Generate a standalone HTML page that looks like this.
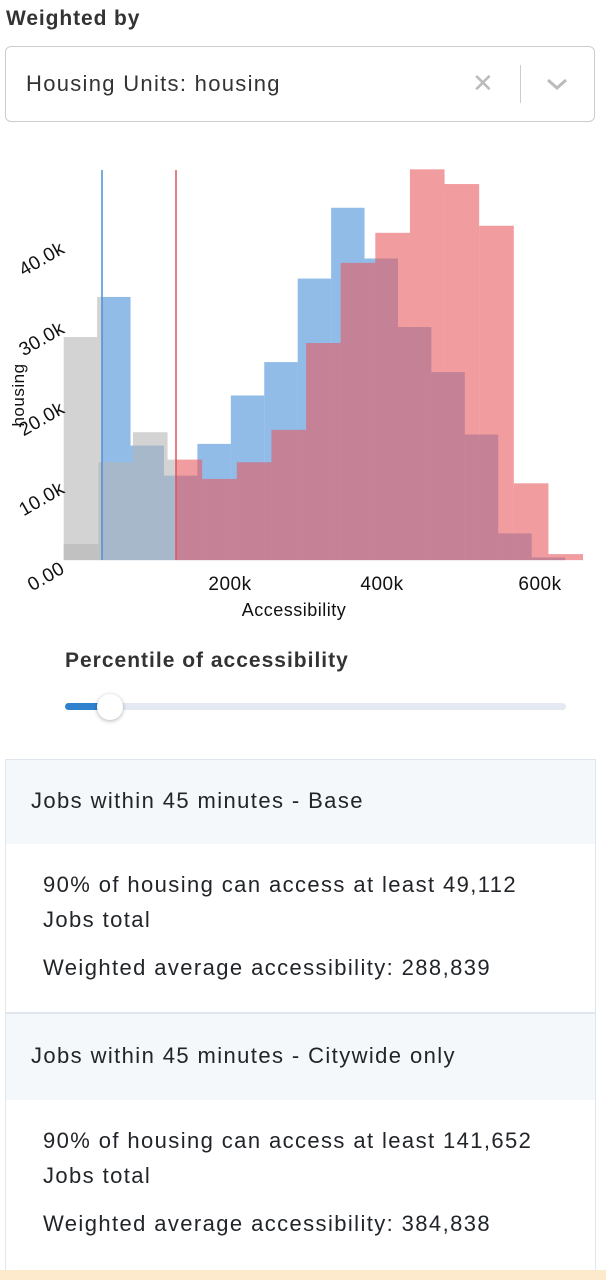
<!DOCTYPE html>
<html><head><meta charset="utf-8"><style>
body{margin:0;width:606px;height:1280px;overflow:hidden;background:#fff;font-family:"Liberation Sans",sans-serif;color:#212529;position:relative}
.a{position:absolute;white-space:nowrap}
</style></head><body>
<div class="a" style="left:6px;top:7px;font-size:21px;letter-spacing:0.9px;font-weight:bold;color:#333">Weighted by</div>
<div class="a" style="left:5px;top:46px;width:588px;height:74px;border:1px solid #ccc;border-radius:6px"></div>
<div class="a" style="left:26px;top:71px;font-size:22px;letter-spacing:1.3px;color:#333">Housing Units: housing</div>
<div class="a" style="left:472px;top:68px;font-size:26px;color:#bbb">✕</div>
<div class="a" style="left:520px;top:65px;width:1px;height:38px;background:#ccc"></div>
<svg class="a" style="left:545px;top:76px" width="24" height="16"><polyline points="3,4 12,12 21,4" fill="none" stroke="#bbb" stroke-width="3"/></svg>

<svg class="a" style="left:0;top:0" width="606" height="630">
<g transform="translate(0,160) scale(0.386,0.334)" id="g"></g>
<line x1="102" y1="170" x2="102" y2="560" stroke="#4a90d9" stroke-width="1.5"/>
<line x1="176" y1="170" x2="176" y2="560" stroke="#e0525a" stroke-width="1.5"/>
<g font-size="19" fill="#111" letter-spacing="0.5">
<text transform="translate(66,572) rotate(-30)" text-anchor="end">0.00</text>
<text transform="translate(66,492) rotate(-30)" text-anchor="end">10.0k</text>
<text transform="translate(66,412) rotate(-30)" text-anchor="end">20.0k</text>
<text transform="translate(66,332) rotate(-30)" text-anchor="end">30.0k</text>
<text transform="translate(66,252) rotate(-30)" text-anchor="end">40.0k</text>
<text x="230" y="590" text-anchor="middle">200k</text>
<text x="382" y="590" text-anchor="middle">400k</text>
<text x="540" y="590" text-anchor="middle">600k</text>
<text x="294" y="616" text-anchor="middle" font-size="18">Accessibility</text>
<text transform="translate(24,395) rotate(-90)" text-anchor="middle" font-size="17">housing</text>
</g>
</svg>
<script>
(function(){
var g=document.getElementById('g'),ns='http://www.w3.org/2000/svg',B=1198;
function bars(start,w,tops,line,col){
 tops.forEach(function(t,i){var x0=start+i*w,x1=x0+w;
  function r(a,b,c){if(b<=a)return;var e=document.createElementNS(ns,'rect');e.setAttribute('x',a);e.setAttribute('y',t);e.setAttribute('width',b-a);e.setAttribute('height',B-t);e.setAttribute('fill',c);e.setAttribute('fill-opacity','0.6');g.appendChild(e);}
  r(x0,Math.min(x1,line),'#b6b6b6');r(Math.max(x0,line),x1,col);});
}
bars(165,86.6,[530,410,855,945,850,705,605,355,143,295,500,635,822,1118,1190],265,'#4a90d9');
bars(165,89.7,[1150,905,815,897,955,905,808,548,308,218,28,72,197,968,1180],456,'#e85a5d');
})();
</script>

<div class="a" style="left:65px;top:649px;font-size:21px;letter-spacing:1px;font-weight:bold;color:#333">Percentile of accessibility</div>
<div class="a" style="left:65px;top:703px;width:501px;height:7px;border-radius:4px;background:#e5e9f2"></div>
<div class="a" style="left:65px;top:703px;width:45px;height:7px;border-radius:4px;background:#3182ce"></div>
<div class="a" style="left:97px;top:694px;width:26px;height:26px;border-radius:50%;background:#fff;box-shadow:0 1px 4px rgba(0,0,0,.3)"></div>

<div class="a" style="left:5px;top:759px;width:589px;height:510px;border:1px solid #dfe6ee;background:#fff"></div>
<div class="a" style="left:6px;top:760px;width:589px;height:84px;background:#f5f8fb"></div>
<div class="a" style="left:5px;top:1012px;width:591px;height:2px;background:#dfe6ee"></div>
<div class="a" style="left:6px;top:1014px;width:589px;height:86px;background:#f5f8fb"></div>
<div class="a" style="left:0;top:1270px;width:606px;height:10px;background:#fde9cc"></div>
<div style="font-size:22px;letter-spacing:1.4px;color:#212529">
<div class="a" style="left:31px;top:788px">Jobs within 45 minutes - Base</div>
<div class="a" style="left:43px;top:872px">90% of housing can access at least 49,112</div>
<div class="a" style="left:43px;top:907px">Jobs total</div>
<div class="a" style="left:43px;top:955px">Weighted average accessibility: 288,839</div>
<div class="a" style="left:31px;top:1043px">Jobs within 45 minutes - Citywide only</div>
<div class="a" style="left:43px;top:1128px">90% of housing can access at least 141,652</div>
<div class="a" style="left:43px;top:1163px">Jobs total</div>
<div class="a" style="left:43px;top:1211px">Weighted average accessibility: 384,838</div>
</div>
</body></html>
